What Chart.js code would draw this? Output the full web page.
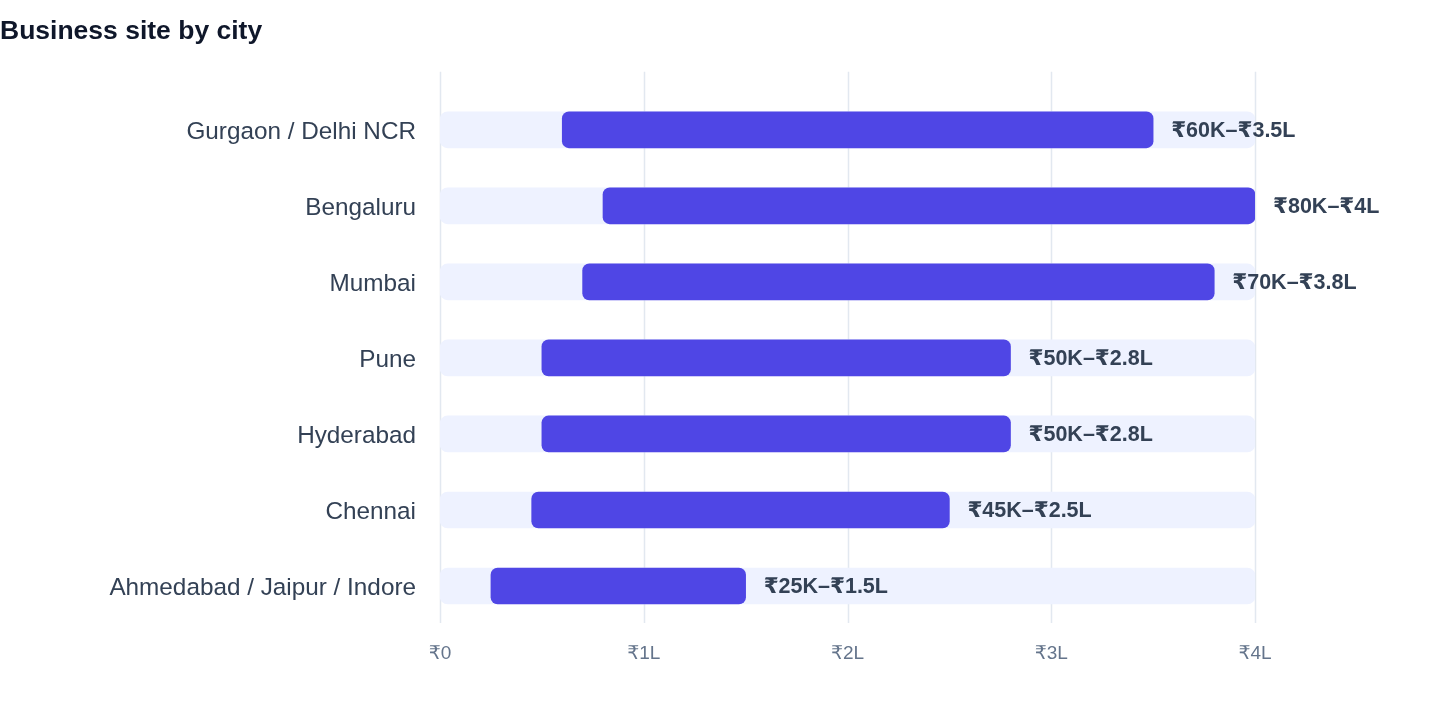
<!DOCTYPE html>
<html>
<head>
<meta charset="utf-8">
<script src="https://cdn.jsdelivr.net/npm/chart.js@4.4.1/dist/chart.umd.min.js"></script>
<style>
  html, body { margin: 0; padding: 0; background: #ffffff; }
  #wrap { width: 1440px; height: 712px; position: relative; }
</style>
</head>
<body>
<div id="wrap"><canvas id="c"></canvas></div>
<script>
const cities = ["Gurgaon / Delhi NCR", "Bengaluru", "Mumbai", "Pune", "Hyderabad", "Chennai", "Ahmedabad / Jaipur / Indore"];
const minLakh = [0.6, 0.8, 0.7, 0.5, 0.5, 0.45, 0.25];
const maxLakh = [3.5, 4.0, 3.8, 2.8, 2.8, 2.5, 1.5];
const rangeLabels = ["₹60K–₹3.5L", "₹80K–₹4L", "₹70K–₹3.8L", "₹50K–₹2.8L", "₹50K–₹2.8L", "₹45K–₹2.5L", "₹25K–₹1.5L"];
const trackMax = [4, 4, 4, 4, 4, 4, 4];
const tickLabels = ["₹0", "₹1L", "₹2L", "₹3L", "₹4L"];

const FONT = "'Liberation Sans', 'DejaVu Sans', sans-serif";

const gridPlugin = {
  id: 'gridExt',
  beforeDatasetsDraw(chart) {
    const { ctx, chartArea, scales } = chart;
    const x = scales.x;
    ctx.save();
    ctx.strokeStyle = '#E2E8F0';
    ctx.lineWidth = 1.5;
    x.ticks.forEach(t => {
      const px = Math.round(x.getPixelForValue(t.value)) + 0.5;
      ctx.beginPath();
      ctx.moveTo(px, chartArea.top - 20);
      ctx.lineTo(px, chartArea.bottom - 1);
      ctx.stroke();
    });
    ctx.restore();
  }
};

const labelPlugin = {
  id: 'rangeLabels',
  afterDatasetsDraw(chart) {
    const { ctx } = chart;
    const meta = chart.getDatasetMeta(0);
    ctx.save();
    ctx.font = "bold 21.5px " + FONT;
    ctx.fillStyle = '#334155';
    ctx.textAlign = 'left';
    ctx.textBaseline = 'middle';
    meta.data.forEach((bar, i) => {
      ctx.fillText(rangeLabels[i], bar.x + 18, bar.y + 1);
    });
    ctx.restore();
  }
};

new Chart(document.getElementById('c'), {
  type: 'bar',
  data: {
    labels: cities,
    datasets: [
      {
        data: cities.map((c, i) => [minLakh[i], maxLakh[i]]),
        backgroundColor: '#4F46E5',
        borderRadius: 7,
        borderSkipped: false,
        barThickness: 36,
        grouped: false
      },
      {
        data: cities.map((c, i) => [0, trackMax[i]]),
        backgroundColor: '#EEF2FF',
        borderRadius: 8,
        borderSkipped: false,
        barThickness: 36,
        grouped: false
      }
    ]
  },
  options: {
    indexAxis: 'y',
    responsive: true,
    maintainAspectRatio: false,
    animation: false,
    layout: { padding: { top: 0, right: 185, bottom: 0, left: 0 } },
    plugins: {
      legend: { display: false },
      tooltip: { enabled: false },
      title: {
        display: true,
        text: 'Business site by city',
        align: 'start',
        color: '#0F172A',
        font: { family: FONT, size: 26.5, weight: 'bold' },
        padding: { top: 16, bottom: 44 }
      }
    },
    scales: {
      x: {
        min: 0,
        max: 4,
        grid: { display: false, drawTicks: false },
        border: { display: false },
        ticks: {
          stepSize: 1,
          padding: 18,
          color: '#64748B',
          font: { family: FONT, size: 19 },
          callback: (v) => tickLabels[v]
        },
        afterFit(scale) { scale.height = 88; }
      },
      y: {
        grid: { display: false, drawTicks: false },
        border: { display: false },
        ticks: {
          padding: 24,
          labelOffset: 2,
          color: '#334155',
          font: { family: FONT, size: 24.3 }
        },
        afterFit(scale) { scale.width = 440; }
      }
    }
  },
  plugins: [gridPlugin, labelPlugin]
});
</script>
</body>
</html>
